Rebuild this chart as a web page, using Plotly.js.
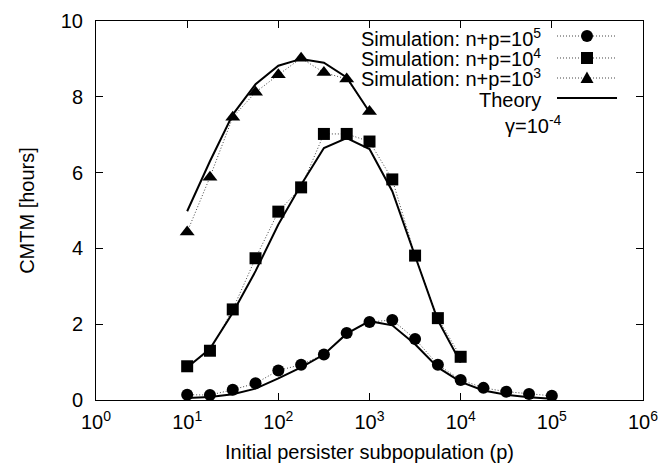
<!DOCTYPE html>
<html>
<head>
<meta charset="utf-8">
<script src="https://cdn.plot.ly/plotly-3.0.1.min.js"></script>
<style>html,body{margin:0;padding:0;background:#fff}</style>
</head>
<body>
<div id="chart" style="width:660px;height:464px"></div>
<script>
// Initial persister subpopulation p (quarter-decade points)
var pValues = [10, 17.78, 31.62, 56.23, 100, 177.8, 316.2, 562.3, 1000, 1778, 3162, 5623, 10000, 17783, 31623, 56234, 100000];

// Simulation results (CMTM, hours)
var sim1e5 = [0.14, 0.13, 0.27, 0.44, 0.78, 0.93, 1.20, 1.77, 2.06, 2.11, 1.61, 0.93, 0.53, 0.32, 0.22, 0.16, 0.11];
var sim1e4 = [0.89, 1.30, 2.39, 3.74, 4.97, 5.61, 7.02, 7.02, 6.82, 5.82, 3.81, 2.16, 1.14];
var sim1e3 = [4.43, 5.88, 7.46, 8.12, 8.58, 9.02, 8.64, 8.47, 7.61];

// Theory curves
var theory1e5 = [0.05, 0.08, 0.15, 0.30, 0.57, 0.86, 1.20, 1.75, 2.08, 1.97, 1.47, 0.86, 0.48, 0.25, 0.14, 0.07, 0.03];
var theory1e4 = [0.86, 1.35, 2.30, 3.40, 4.63, 5.68, 6.65, 6.91, 6.62, 5.51, 3.80, 2.10, 0.99];
var theory1e3 = [4.98, 6.30, 7.53, 8.33, 8.82, 9.00, 8.90, 8.51, 7.60];

// Axis ticks
var xTickVals = [1, 10, 100, 1000, 10000, 100000, 1000000];
var xTickText = ['10<sup>0</sup>', '10<sup>1</sup>', '10<sup>2</sup>', '10<sup>3</sup>', '10<sup>4</sup>', '10<sup>5</sup>', '10<sup>6</sup>'];
var yTickVals = [0, 2, 4, 6, 8, 10];

// Legend labels
var simLabels = ['Simulation: n+p=10<sup>5</sup>', 'Simulation: n+p=10<sup>4</sup>', 'Simulation: n+p=10<sup>3</sup>'];
var theoryLabel = 'Theory';
var gammaLabel = '\u03b3=10<sup>-4</sup>';

var FONT = 'Liberation Sans, Arial, Helvetica, sans-serif';
var DOT = {color: '#444444', width: 1, dash: '1px,2px'};

function simTrace(y, sym, name) {
  return {
    x: pValues.slice(0, y.length), y: y, type: 'scatter', mode: 'lines+markers', name: name,
    line: DOT,
    marker: {symbol: sym, size: sym === 'triangle-up' ? 13 : 12, color: '#000000'}
  };
}
function theoryTrace(y) {
  return {
    x: pValues.slice(0, y.length), y: y, type: 'scatter', mode: 'lines', name: theoryLabel,
    line: {color: '#000000', width: 2}
  };
}

var data = [
  simTrace(sim1e5, 'circle', 'n+p=1e5'),
  simTrace(sim1e4, 'square', 'n+p=1e4'),
  simTrace(sim1e3, 'triangle-up', 'n+p=1e3'),
  theoryTrace(theory1e5),
  theoryTrace(theory1e4),
  theoryTrace(theory1e3)
];

// custom legend (text left, sample right, as in the reference)
var rowY = [0.9604, 0.9024, 0.8496, 0.7968];
var textY = [0.9565, 0.9037, 0.8509, 0.7916];
var lx0 = 0.8428, lx1 = 0.9525, mx = 0.8976, tx = 0.8172;
var shapes = [];
var annotations = [];
for (var i = 0; i < 4; i++) {
  shapes.push({type: 'line', xref: 'paper', yref: 'paper', x0: lx0, x1: lx1, y0: rowY[i], y1: rowY[i],
    line: i < 3 ? DOT : {color: '#000000', width: 2}});
}
shapes.push({type: 'circle', xref: 'paper', yref: 'paper', xsizemode: 'pixel', ysizemode: 'pixel',
  xanchor: mx, yanchor: rowY[0], x0: -6, x1: 6, y0: -6, y1: 6, fillcolor: '#000', line: {width: 0}});
shapes.push({type: 'rect', xref: 'paper', yref: 'paper', xsizemode: 'pixel', ysizemode: 'pixel',
  xanchor: mx, yanchor: rowY[1], x0: -6, x1: 6, y0: -6, y1: 6, fillcolor: '#000', line: {width: 0}});
shapes.push({type: 'path', xref: 'paper', yref: 'paper', xsizemode: 'pixel', ysizemode: 'pixel',
  xanchor: mx, yanchor: rowY[2], path: 'M -6.5 -5 L 6.5 -5 L 0 6.5 Z', fillcolor: '#000', line: {width: 0}});

var labels = simLabels.concat([theoryLabel]);
for (var j = 0; j < labels.length; j++) {
  annotations.push({xref: 'paper', yref: 'paper', x: tx, y: textY[j], xanchor: 'right', yanchor: 'middle',
    text: labels[j], showarrow: false, font: {family: FONT, size: 20, color: '#000'}});
}
annotations.push({xref: 'paper', yref: 'paper', x: 0.799, y: 0.7282, xanchor: 'center', yanchor: 'middle',
  text: gammaLabel, showarrow: false, font: {family: FONT, size: 20, color: '#000'}});

var layout = {
  width: 660, height: 464,
  margin: {l: 96, r: 17, t: 21, b: 64, pad: 0},
  paper_bgcolor: '#ffffff', plot_bgcolor: '#ffffff',
  showlegend: false,
  font: {family: FONT, size: 20, color: '#000'},
  xaxis: {
    type: 'log', range: [0, 6], tickvals: xTickVals, ticktext: xTickText,
    ticks: 'inside', ticklen: 7, tickcolor: '#000', mirror: 'ticks', showline: true, linecolor: '#000', linewidth: 1,
    showgrid: false, zeroline: false, tickfont: {family: FONT, size: 20}, ticklabelstandoff: 4,
    title: {text: 'Initial persister subpopulation (p)', font: {family: FONT, size: 20}, standoff: 12}
  },
  yaxis: {
    range: [0, 10], tickvals: yTickVals,
    ticks: 'inside', ticklen: 7, tickcolor: '#000', mirror: 'ticks', showline: true, linecolor: '#000', linewidth: 1,
    showgrid: false, zeroline: false, tickfont: {family: FONT, size: 20}, ticklabelstandoff: 8,
    title: {text: 'CMTM [hours]', font: {family: FONT, size: 20}, standoff: 20}
  },
  shapes: shapes,
  annotations: annotations
};

Plotly.newPlot('chart', data, layout, {displayModeBar: false, staticPlot: true});
</script>
</body>
</html>
